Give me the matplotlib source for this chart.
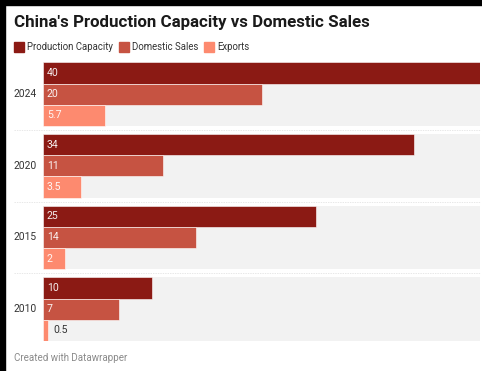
import matplotlib.pyplot as plt
from matplotlib.patches import Rectangle
from matplotlib.transforms import blended_transform_factory

plt.rcParams['font.family'] = ['Roboto', 'DejaVu Sans']

years = ['2024', '2020', '2015', '2010']
capacity = [40, 34, 25, 10]
domestic = [20, 11, 14, 7]
exports = [5.7, 3.5, 2, 0.5]

series_names = ['Production Capacity', 'Domestic Sales', 'Exports']
colors = ['#8b1a14', '#c65342', '#fd8a6f']
panel_grey = '#f2f2f2'

W, H = 482, 371
fig = plt.figure(figsize=(W / 100, H / 100), dpi=100)
fig.patch.set_facecolor('white')

# plot area in pixels (left, top, right, bottom)
px_left, px_top, px_right, px_bottom = 43, 62, 480, 341
ax = fig.add_axes([px_left / W, 1 - px_bottom / H,
                   (px_right - px_left) / W, (px_bottom - px_top) / H])
ax.set_xlim(0, max(capacity))
ax.set_ylim(px_bottom, px_top)
ax.axis('off')

group_step = 71.7
bar_h = 21.2
first_top = 62.3

trans_fig_x = blended_transform_factory(fig.transFigure, ax.transData)

for g, year in enumerate(years):
    top = first_top + g * group_step
    vals = [capacity[g], domestic[g], exports[g]]
    centers = [top + bar_h * (i + 0.5) for i in range(3)]
    # grey backing panel
    ax.barh(centers, [max(capacity)] * 3, height=bar_h, color=panel_grey,
            edgecolor='none', zorder=1)
    ax.barh(centers, vals, height=bar_h, color=colors,
            edgecolor='white', linewidth=0.4, zorder=2)
    for v, c in zip(vals, centers):
        if v >= 1:
            ax.text(0.35, c, f'{v:g}', color='white', alpha=0.92,
                    fontsize=7.6, va='center', ha='left', zorder=3)
        else:
            ax.text(v + 0.45, c, f'{v:g}', color='#333333',
                    fontsize=7.6, va='center', ha='left', zorder=3)
    ax.text(14 / W, top + bar_h * 1.5, year, transform=trans_fig_x,
            fontsize=7.4, color='#333333', va='center', ha='left')
    if g < len(years) - 1:
        sep_y = top + 3 * bar_h + (group_step - 3 * bar_h) / 2
        ax.plot([14 / W, px_right / W], [sep_y, sep_y], transform=trans_fig_x,
                color='#dedede', lw=0.5, ls=(0, (2, 1.5)), clip_on=False)

# title
fig.text(14 / W, 1 - 23 / H, "China's Production Capacity vs Domestic Sales",
         fontsize=12.2, fontweight='bold', color='#1a1a1a', va='center', ha='left')

# legend
legend_x = [14, 119, 204]
for x, name, col in zip(legend_x, series_names, colors):
    fig.patches.append(Rectangle((x / W, 1 - 52 / H), 10 / W, 10 / H,
                                 transform=fig.transFigure, color=col))
    fig.text((x + 13) / W, 1 - 47 / H, name, fontsize=6.9, color='#333333',
             va='center', ha='left')

# footer
fig.text(14 / W, 1 - 358 / H, 'Created with Datawrapper', fontsize=7.0,
         color='#8a8a8a', va='center', ha='left')

# dark frame along the top and left edges
fig.patches.append(Rectangle((0, 0), 5 / W, 1, transform=fig.transFigure,
                             color='black', zorder=10))
fig.patches.append(Rectangle((0, 1 - 5 / H), 1, 5 / H, transform=fig.transFigure,
                             color='black', zorder=10))

fig.savefig('out.png', dpi=100)
